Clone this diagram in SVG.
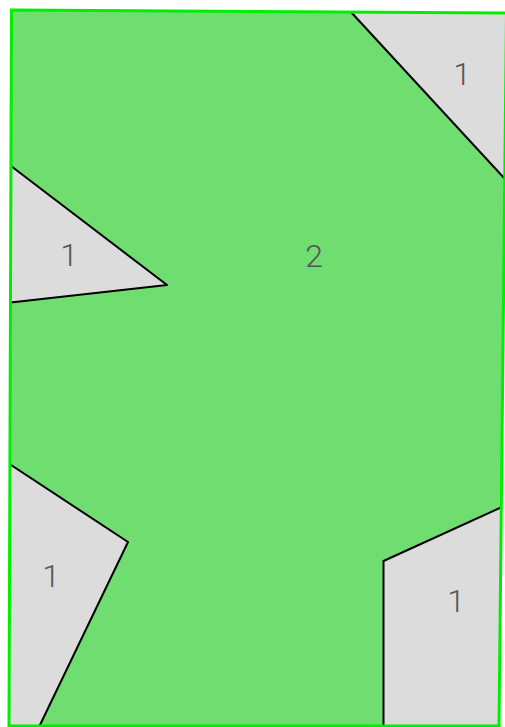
<svg xmlns="http://www.w3.org/2000/svg" width="505" height="727" viewBox="0 0 505 727">
<style>
.gray{fill:#dcdcdc;stroke:none}
.edge{fill:none;stroke:#000;stroke-width:2;stroke-linejoin:round}
.lbl{font-family:Roboto,"Liberation Sans",sans-serif;font-weight:300;font-size:32px;fill:#555;text-anchor:middle}
</style>
<rect width="505" height="727" fill="#fff"/>
<g id="region2">
<polygon points="11.5,10 506.5,13 499,726 9,726" fill="#6fdd6f"/>
<text class="lbl" x="314" y="267">2</text>
</g>
<g id="region1-topright">
<polygon class="gray" points="350.5,11.5 506.5,13 505,179"/>
<text class="lbl" x="462" y="85">1</text>
</g>
<g id="region1-left">
<polygon class="gray" points="11,166 167,285 10.5,302.5"/>
<text class="lbl" x="69" y="266">1</text>
</g>
<g id="region1-bottomleft">
<polygon class="gray" points="9.5,464 128,542 39.5,726 9,726"/>
<text class="lbl" x="51" y="587">1</text>
</g>
<g id="region1-bottomright">
<polygon class="gray" points="383.5,561 502,507 499,726 383.5,726"/>
<text class="lbl" x="456" y="612">1</text>
</g>
<g id="connectors">
<polyline class="edge" points="350.5,11.5 505,179"/>
<polyline class="edge" points="11,166 167,285 10.5,302.5"/>
<polyline class="edge" points="9.5,464 128,542 39.5,726"/>
<polyline class="edge" points="383.5,727 383.5,561 502,507"/>
<polygon points="11.5,10 506.5,13 499,726 9,726" fill="none" stroke="#00ee00" stroke-width="3"/>
</g>
</svg>
